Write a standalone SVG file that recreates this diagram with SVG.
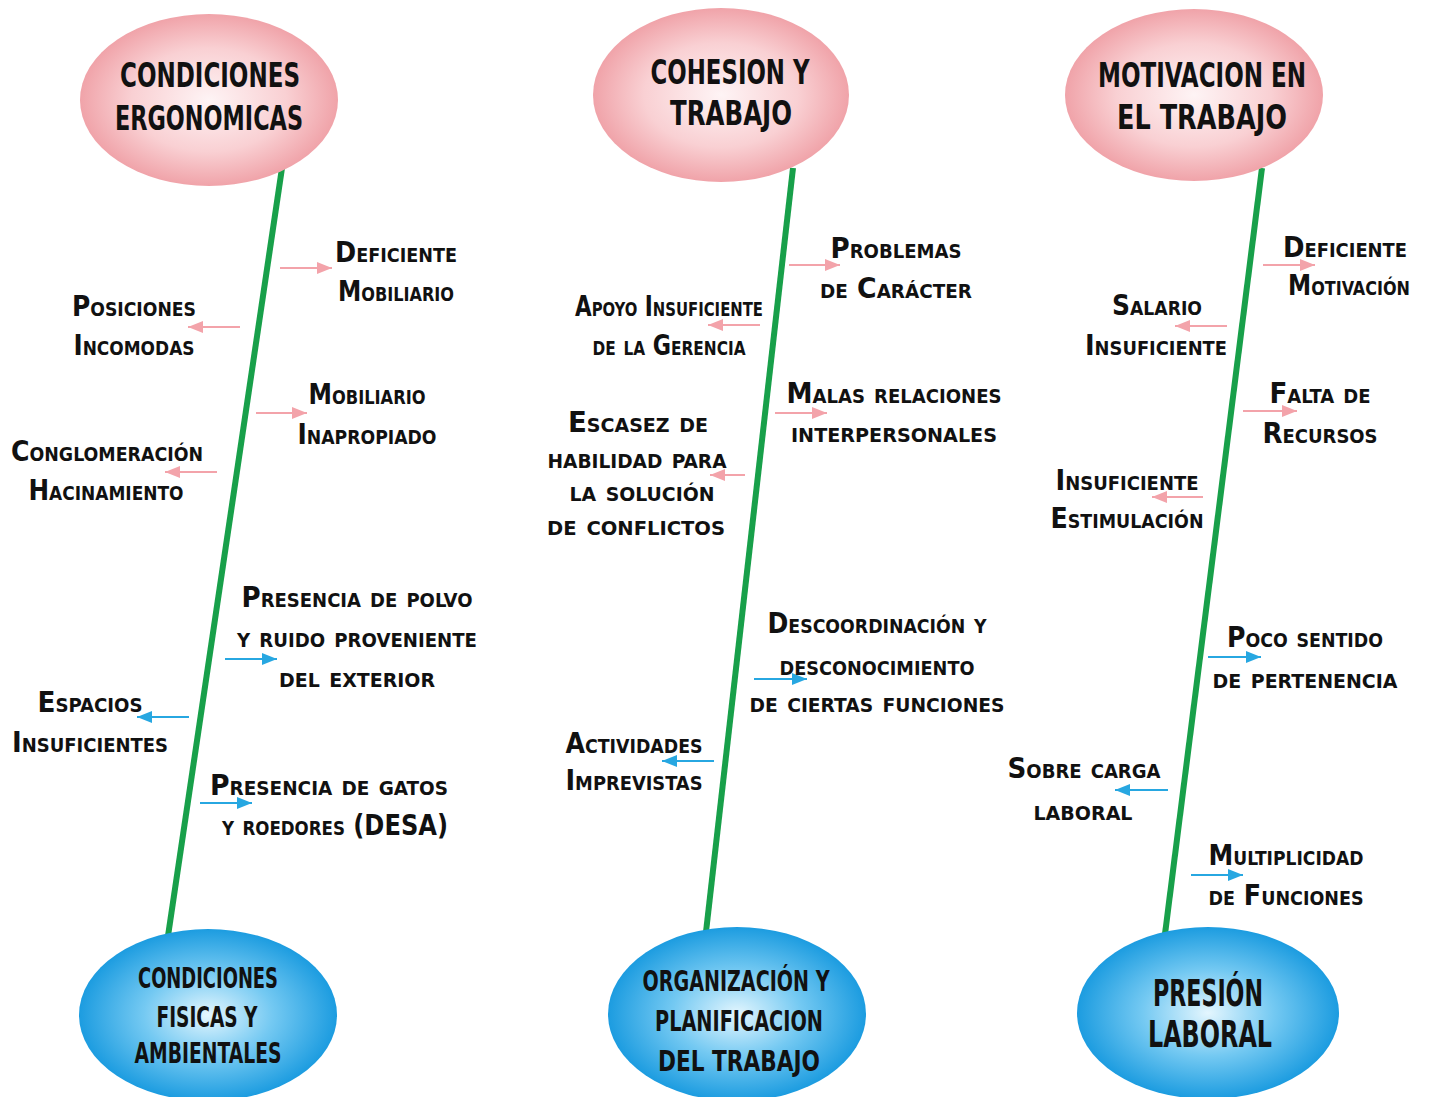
<svg xmlns="http://www.w3.org/2000/svg" width="1429" height="1097" viewBox="0 0 1429 1097">
<defs>
<radialGradient id="gPink" cx="50%" cy="50%" r="50%">
<stop offset="0" stop-color="#fef4f5"/>
<stop offset="0.6" stop-color="#f9d0d3"/>
<stop offset="1" stop-color="#f0a3a9"/>
</radialGradient>
<radialGradient id="gBlue" cx="50%" cy="50%" r="50%">
<stop offset="0" stop-color="#e4f6fe"/>
<stop offset="0.5" stop-color="#74c9f2"/>
<stop offset="1" stop-color="#1c9ce0"/>
</radialGradient>
<marker id="hPink" markerUnits="userSpaceOnUse" markerWidth="16" markerHeight="12" refX="15" refY="6" orient="auto">
<path d="M0,0 L15,6 L0,12 Z" fill="#f3a3aa"/>
</marker>
<marker id="hBlue" markerUnits="userSpaceOnUse" markerWidth="16" markerHeight="12" refX="15" refY="6" orient="auto">
<path d="M0,0 L15,6 L0,12 Z" fill="#27a7e1"/>
</marker>
<style>
text{font-family:"DejaVu Sans Condensed","DejaVu Sans",sans-serif;font-weight:bold;fill:#111;text-anchor:middle;}
.t{font-size:34px;}
.b{font-size:29px;}
.p{font-size:38px;}
.l{font-size:29px;font-variant:small-caps;}
.spine{stroke:#18a04a;stroke-width:6;fill:none;}
.ap{stroke:#f3a3aa;stroke-width:2;fill:none;marker-end:url(#hPink);}
.ab{stroke:#27a7e1;stroke-width:2;fill:none;marker-end:url(#hBlue);}
</style>
</defs>
<rect width="1429" height="1097" fill="#ffffff"/>

<g id="connectors">
<line class="spine" x1="282" y1="168" x2="168" y2="936"/>
<line class="spine" x1="793" y1="168" x2="706" y2="932"/>
<line class="spine" x1="1262" y1="168" x2="1165" y2="934"/>
<line class="ap" x1="280" y1="268" x2="332" y2="268"/>
<line class="ap" x1="240" y1="327" x2="188" y2="327"/>
<line class="ap" x1="256" y1="413" x2="307" y2="413"/>
<line class="ap" x1="217" y1="472" x2="165" y2="472"/>
<line class="ab" x1="225" y1="659" x2="277" y2="659"/>
<line class="ab" x1="189" y1="717" x2="137" y2="717"/>
<line class="ab" x1="200" y1="803" x2="252" y2="803"/>
<line class="ap" x1="789" y1="265" x2="840" y2="265"/>
<line class="ap" x1="760" y1="325" x2="708" y2="325"/>
<line class="ap" x1="775" y1="413" x2="827" y2="413"/>
<line class="ap" x1="745" y1="475" x2="710" y2="475"/>
<line class="ab" x1="754" y1="679" x2="807" y2="679"/>
<line class="ab" x1="714" y1="761" x2="662" y2="761"/>
<line class="ap" x1="1263" y1="265" x2="1315" y2="265"/>
<line class="ap" x1="1227" y1="326" x2="1175" y2="326"/>
<line class="ap" x1="1243" y1="411" x2="1297" y2="411"/>
<line class="ap" x1="1203" y1="497" x2="1152" y2="497"/>
<line class="ab" x1="1208" y1="657" x2="1261" y2="657"/>
<line class="ab" x1="1168" y1="790" x2="1115" y2="790"/>
<line class="ab" x1="1191" y1="875" x2="1243" y2="875"/>
</g>

<g id="node-condiciones-ergonomicas">
<ellipse cx="209" cy="100" rx="129" ry="86" fill="url(#gPink)"/>
<text class="t" x="210" y="87" textLength="180" lengthAdjust="spacingAndGlyphs">CONDICIONES</text>
<text class="t" x="209" y="130" textLength="188" lengthAdjust="spacingAndGlyphs">ERGONOMICAS</text>
</g>
<g id="node-cohesion-trabajo">
<ellipse cx="721" cy="95" rx="128" ry="87" fill="url(#gPink)"/>
<text class="t" x="730" y="84" textLength="159" lengthAdjust="spacingAndGlyphs">COHESION Y</text>
<text class="t" x="731" y="125" textLength="122" lengthAdjust="spacingAndGlyphs">TRABAJO</text>
</g>
<g id="node-motivacion">
<ellipse cx="1194" cy="95" rx="129" ry="86" fill="url(#gPink)"/>
<text class="t" x="1202" y="87" textLength="208" lengthAdjust="spacingAndGlyphs">MOTIVACION EN</text>
<text class="t" x="1202" y="129" textLength="170" lengthAdjust="spacingAndGlyphs">EL TRABAJO</text>
</g>
<g id="node-condiciones-fisicas">
<ellipse cx="208" cy="1015" rx="129" ry="86" fill="url(#gBlue)"/>
<text class="b" x="208" y="988" textLength="140" lengthAdjust="spacingAndGlyphs">CONDICIONES</text>
<text class="b" x="207" y="1027" textLength="101" lengthAdjust="spacingAndGlyphs">FISICAS Y</text>
<text class="b" x="208" y="1063" textLength="147" lengthAdjust="spacingAndGlyphs">AMBIENTALES</text>
</g>
<g id="node-organizacion">
<ellipse cx="737" cy="1014" rx="129" ry="87" fill="url(#gBlue)"/>
<text class="b" x="736" y="991" textLength="187" lengthAdjust="spacingAndGlyphs">ORGANIZACIÓN Y</text>
<text class="b" x="739" y="1031" textLength="168" lengthAdjust="spacingAndGlyphs">PLANIFICACION</text>
<text class="b" x="739" y="1071" textLength="162" lengthAdjust="spacingAndGlyphs">DEL TRABAJO</text>
</g>
<g id="node-presion-laboral">
<ellipse cx="1208" cy="1013" rx="131" ry="86" fill="url(#gBlue)"/>
<text class="p" x="1208" y="1006" textLength="110" lengthAdjust="spacingAndGlyphs">PRESIÓN</text>
<text class="p" x="1210" y="1047" textLength="124" lengthAdjust="spacingAndGlyphs">LABORAL</text>
</g>

<g id="label-deficiente-mobiliario">
<text class="l" x="396" y="262" textLength="122" lengthAdjust="spacingAndGlyphs">Deficiente</text>
<text class="l" x="396" y="301" textLength="116" lengthAdjust="spacingAndGlyphs">Mobiliario</text>
</g>
<g id="label-posiciones-incomodas">
<text class="l" x="134" y="316" textLength="124" lengthAdjust="spacingAndGlyphs">Posiciones</text>
<text class="l" x="134" y="355" textLength="121" lengthAdjust="spacingAndGlyphs">Incomodas</text>
</g>
<g id="label-mobiliario-inapropiado">
<text class="l" x="367" y="404" textLength="117" lengthAdjust="spacingAndGlyphs">Mobiliario</text>
<text class="l" x="367" y="444" textLength="139" lengthAdjust="spacingAndGlyphs">Inapropiado</text>
</g>
<g id="label-conglomeracion">
<text class="l" x="107" y="461" textLength="192" lengthAdjust="spacingAndGlyphs">Conglomeración</text>
<text class="l" x="106" y="500" textLength="155" lengthAdjust="spacingAndGlyphs">Hacinamiento</text>
</g>
<g id="label-polvo-ruido">
<text class="l" x="357" y="607" textLength="231" lengthAdjust="spacingAndGlyphs">Presencia de polvo</text>
<text class="l" x="357" y="647" textLength="240" lengthAdjust="spacingAndGlyphs">y ruido proveniente</text>
<text class="l" x="357" y="687" textLength="156" lengthAdjust="spacingAndGlyphs">del exterior</text>
</g>
<g id="label-espacios-insuficientes">
<text class="l" x="90" y="712" textLength="105" lengthAdjust="spacingAndGlyphs">Espacios</text>
<text class="l" x="90" y="752" textLength="156" lengthAdjust="spacingAndGlyphs">Insuficientes</text>
</g>
<g id="label-gatos-roedores">
<text class="l" x="329" y="795" textLength="238" lengthAdjust="spacingAndGlyphs">Presencia de gatos</text>
<text class="l" x="335" y="835" textLength="226" lengthAdjust="spacingAndGlyphs">y roedores (DESA)</text>
</g>

<g id="label-problemas-caracter">
<text class="l" x="896" y="258" textLength="131" lengthAdjust="spacingAndGlyphs">Problemas</text>
<text class="l" x="896" y="298" textLength="152" lengthAdjust="spacingAndGlyphs">de Carácter</text>
</g>
<g id="label-apoyo-gerencia">
<text class="l" x="669" y="316" textLength="188" lengthAdjust="spacingAndGlyphs">Apoyo Insuficiente</text>
<text class="l" x="669" y="355" textLength="153" lengthAdjust="spacingAndGlyphs">de la Gerencia</text>
</g>
<g id="label-malas-relaciones">
<text class="l" x="894" y="403" textLength="215" lengthAdjust="spacingAndGlyphs">Malas relaciones</text>
<text class="l" x="894" y="442" textLength="206" lengthAdjust="spacingAndGlyphs">interpersonales</text>
</g>
<g id="label-escasez-habilidad">
<text class="l" x="638" y="432" textLength="140" lengthAdjust="spacingAndGlyphs">Escasez de</text>
<text class="l" x="637" y="468" textLength="179" lengthAdjust="spacingAndGlyphs">habilidad para</text>
<text class="l" x="642" y="501" textLength="145" lengthAdjust="spacingAndGlyphs">la solución</text>
<text class="l" x="636" y="535" textLength="178" lengthAdjust="spacingAndGlyphs">de conflictos</text>
</g>
<g id="label-descoordinacion">
<text class="l" x="877" y="633" textLength="219" lengthAdjust="spacingAndGlyphs">Descoordinación y</text>
<text class="l" x="877" y="675" textLength="195" lengthAdjust="spacingAndGlyphs">desconocimiento</text>
<text class="l" x="877" y="712" textLength="255" lengthAdjust="spacingAndGlyphs">de ciertas funciones</text>
</g>
<g id="label-actividades-imprevistas">
<text class="l" x="634" y="753" textLength="137" lengthAdjust="spacingAndGlyphs">Actividades</text>
<text class="l" x="634" y="790" textLength="137" lengthAdjust="spacingAndGlyphs">Imprevistas</text>
</g>

<g id="label-deficiente-motivacion">
<text class="l" x="1345" y="257" textLength="124" lengthAdjust="spacingAndGlyphs">Deficiente</text>
<text class="l" x="1349" y="295" textLength="122" lengthAdjust="spacingAndGlyphs">Motivación</text>
</g>
<g id="label-salario-insuficiente">
<text class="l" x="1157" y="315" textLength="90" lengthAdjust="spacingAndGlyphs">Salario</text>
<text class="l" x="1156" y="355" textLength="142" lengthAdjust="spacingAndGlyphs">Insuficiente</text>
</g>
<g id="label-falta-recursos">
<text class="l" x="1320" y="403" textLength="101" lengthAdjust="spacingAndGlyphs">Falta de</text>
<text class="l" x="1320" y="443" textLength="115" lengthAdjust="spacingAndGlyphs">Recursos</text>
</g>
<g id="label-insuficiente-estimulacion">
<text class="l" x="1127" y="490" textLength="143" lengthAdjust="spacingAndGlyphs">Insuficiente</text>
<text class="l" x="1127" y="528" textLength="153" lengthAdjust="spacingAndGlyphs">Estimulación</text>
</g>
<g id="label-poco-sentido">
<text class="l" x="1305" y="647" textLength="156" lengthAdjust="spacingAndGlyphs">Poco sentido</text>
<text class="l" x="1305" y="688" textLength="185" lengthAdjust="spacingAndGlyphs">de pertenencia</text>
</g>
<g id="label-sobre-carga">
<text class="l" x="1084" y="778" textLength="153" lengthAdjust="spacingAndGlyphs">Sobre carga</text>
<text class="l" x="1083" y="820" textLength="99" lengthAdjust="spacingAndGlyphs">laboral</text>
</g>
<g id="label-multiplicidad">
<text class="l" x="1286" y="865" textLength="155" lengthAdjust="spacingAndGlyphs">Multiplicidad</text>
<text class="l" x="1286" y="905" textLength="155" lengthAdjust="spacingAndGlyphs">de Funciones</text>
</g>
</svg>
